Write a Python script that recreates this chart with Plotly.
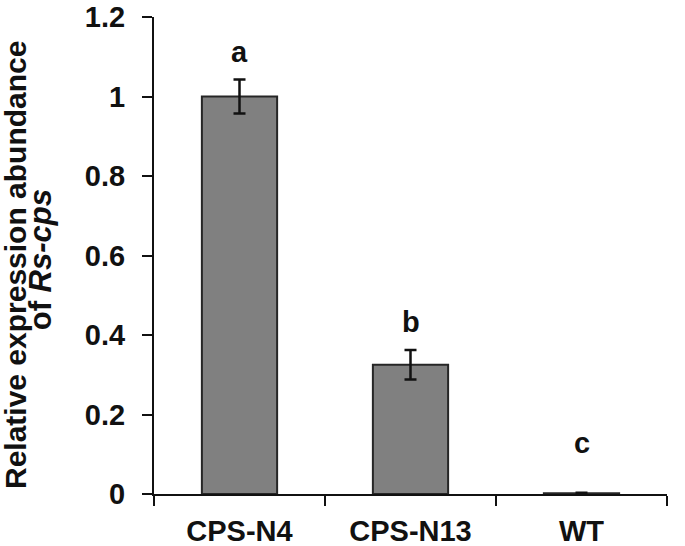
import plotly.graph_objects as go

categories = ["CPS-N4", "CPS-N13", "WT"]
values = [1.0, 0.325, 0.002]
errors = [0.043, 0.037, 0.001]
letters = ["a", "b", "c"]
letter_y = [1.112, 0.433, 0.128]
y_ticks = [0, 0.2, 0.4, 0.6, 0.8, 1.0, 1.2]
y_tick_labels = ["0", "0.2", "0.4", "0.6", "0.8", "1", "1.2"]

FONT = "Arial, Liberation Sans, sans-serif"

fig = go.Figure()
fig.add_trace(go.Bar(
    x=categories, y=values, width=0.44,
    marker=dict(color="#808080", line=dict(color="#262626", width=2)),
    error_y=dict(type="data", array=errors, visible=True,
                 color="#111111", thickness=2.5, width=6),
))

for c, t, ly in zip(categories, letters, letter_y):
    fig.add_annotation(x=c, y=ly, text=t, showarrow=False,
                       xanchor="center", yanchor="middle",
                       font=dict(family=FONT, size=29, color="#111111", weight="bold"))

fig.add_annotation(xref="paper", yref="paper", x=0, y=0.48, xshift=-139,
                   text="Relative expression abundance", textangle=-90,
                   showarrow=False, xanchor="center", yanchor="middle",
                   font=dict(family=FONT, size=30, color="#111111", weight="bold"))
fig.add_annotation(xref="paper", yref="paper", x=0, y=0.49, xshift=-114,
                   text="of <i>Rs-cps</i>", textangle=-90,
                   showarrow=False, xanchor="center", yanchor="middle",
                   font=dict(family=FONT, size=31, color="#111111", weight="bold"))

fig.update_layout(
    width=685, height=546,
    margin=dict(l=154, r=18, t=17, b=52, autoexpand=False),
    plot_bgcolor="white", paper_bgcolor="white",
    showlegend=False,
    font=dict(family=FONT, size=29, color="#111111", weight="bold"),
)
fig.update_xaxes(
    range=[-0.5, 2.5], showline=True, linecolor="#111111", linewidth=2,
    ticks="outside", tickson="boundaries", ticklen=10, tickwidth=2,
    tickcolor="#111111", showgrid=False, zeroline=False, automargin=False,
    ticklabelstandoff=10,
    tickfont=dict(family=FONT, size=29, color="#111111", weight="bold"),
)
fig.update_yaxes(
    range=[0, 1.2], showline=True, linecolor="#111111", linewidth=2,
    ticks="outside", ticklen=10, tickwidth=2, tickcolor="#111111",
    tickvals=y_ticks, ticktext=y_tick_labels, automargin=False,
    showgrid=False, zeroline=False, ticklabelstandoff=11,
    tickfont=dict(family=FONT, size=29, color="#111111", weight="bold"),
)

fig.write_html(
    "out.html",
    config={"displayModeBar": False},
    post_script="document.body.style.margin='0';document.body.style.overflow='hidden';",
)
